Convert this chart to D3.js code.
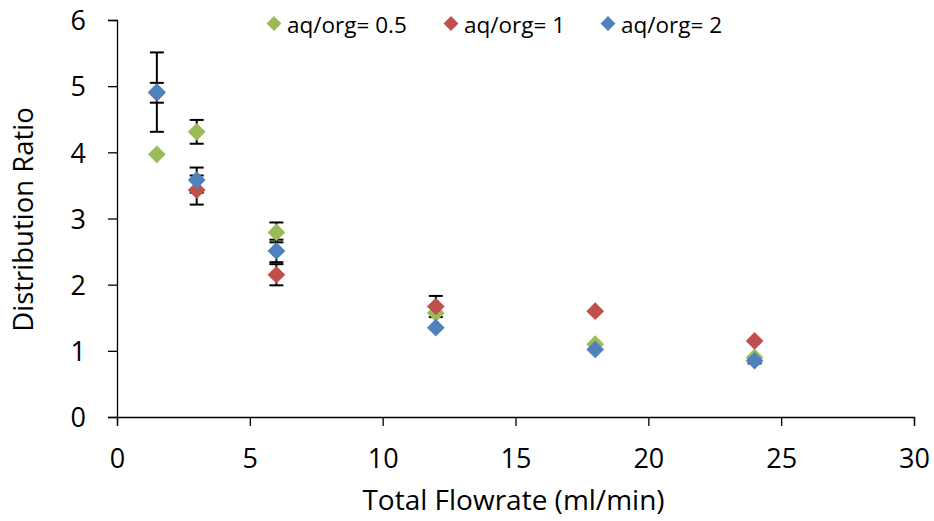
<!DOCTYPE html>
<html>
<head>
<meta charset="utf-8">
<script src="https://cdn.jsdelivr.net/npm/d3@7"></script>
<style>
  body { margin: 0; background: #fff; }
  text { font-family: "Open Sans", "Noto Sans", sans-serif; fill: #000; }
</style>
</head>
<body>
<script>
// flowrate values (ml/min)
var flowrates = [1.5, 3, 6, 12, 18, 24];
var seriesNames = ["aq/org= 0.5", "aq/org= 1", "aq/org= 2"];
var seriesColors = ["#9BBB59", "#C0504D", "#4F81BD"];

// distribution ratio, one array per aq/org ratio
var ratioHalf = [3.97, 4.31, 2.79, 1.57, 1.10, 0.90];
var ratioOne  = [4.90, 3.43, 2.15, 1.67, 1.60, 1.15];
var ratioTwo  = [4.91, 3.58, 2.51, 1.35, 1.02, 0.85];

// error bar half widths (0 = none shown)
var errHalf = [0, 0.18, 0.15, 0, 0, 0];
var errOne  = [0.15, 0.22, 0.16, 0.16, 0, 0];
var errTwo  = [0.60, 0.19, 0.17, 0, 0, 0.04];

var xTicks = [0, 5, 10, 15, 20, 25, 30];
var yTicks = [0, 1, 2, 3, 4, 5, 6];

var width = 934, height = 521;
var margin = {top: 20, right: 20, bottom: 104, left: 117};

var svg = d3.select("body").append("svg")
    .attr("width", width)
    .attr("height", height);

var x = d3.scaleLinear().domain([0, 30]).range([margin.left, width - margin.right]);
var y = d3.scaleLinear().domain([0, 6]).range([height - margin.bottom, margin.top]);

// axes
var xAxis = svg.append("g")
    .attr("transform", "translate(0," + y(0) + ")")
    .call(d3.axisBottom(x).tickValues(xTicks).tickSize(9).tickPadding(23).tickFormat(d3.format("d")));
var yAxis = svg.append("g")
    .attr("transform", "translate(" + x(0) + ",0)")
    .call(d3.axisLeft(y).tickValues(yTicks).tickSize(9).tickPadding(22).tickFormat(d3.format("d")));

[xAxis, yAxis].forEach(function (a) {
    a.select(".domain").attr("stroke", "#000").attr("stroke-width", 1.3);
    a.selectAll(".tick line").attr("stroke", "#000").attr("stroke-width", 1.3);
    a.selectAll(".tick text").style("font-size", "27px").attr("fill", "#000");
});
yAxis.selectAll(".tick text").attr("dy", "0.36em");

// axis titles
svg.append("text")
    .attr("x", (x(0) + x(30)) / 2 - 2)
    .attr("y", 510)
    .attr("text-anchor", "middle")
    .style("font-size", "28px")
    .text("Total Flowrate (ml/min)");

svg.append("text")
    .attr("transform", "translate(33," + (y(3) + 1) + ") rotate(-90)")
    .attr("text-anchor", "middle")
    .style("font-size", "27.5px")
    .text("Distribution Ratio");

var allSeries = [
    {name: seriesNames[0], color: seriesColors[0], values: ratioHalf, errs: errHalf},
    {name: seriesNames[1], color: seriesColors[1], values: ratioOne, errs: errOne},
    {name: seriesNames[2], color: seriesColors[2], values: ratioTwo, errs: errTwo}
];

var diamond = d3.symbol().type(d3.symbolDiamond2).size(200);
var cap = 7;

var errLayer = svg.append("g").attr("stroke", "#000").attr("stroke-width", 2);
var markLayer = svg.append("g");

// error bars go under every marker, markers drawn series by series
allSeries.forEach(function (s) {
    var pts = flowrates.map(function (f, i) { return {x: f, y: s.values[i], e: s.errs[i]}; });

    var eb = errLayer.append("g").selectAll("g")
        .data(pts.filter(function (d) { return d.e > 0; }))
        .enter().append("g");
    eb.append("line")
        .attr("x1", function (d) { return x(d.x); })
        .attr("x2", function (d) { return x(d.x); })
        .attr("y1", function (d) { return y(d.y - d.e); })
        .attr("y2", function (d) { return y(d.y + d.e); });
    eb.append("line")
        .attr("x1", function (d) { return x(d.x) - cap; })
        .attr("x2", function (d) { return x(d.x) + cap; })
        .attr("y1", function (d) { return y(d.y + d.e); })
        .attr("y2", function (d) { return y(d.y + d.e); });
    eb.append("line")
        .attr("x1", function (d) { return x(d.x) - cap; })
        .attr("x2", function (d) { return x(d.x) + cap; })
        .attr("y1", function (d) { return y(d.y - d.e); })
        .attr("y2", function (d) { return y(d.y - d.e); });

    markLayer.append("g").selectAll("path")
        .data(pts)
        .enter().append("path")
        .attr("d", diamond)
        .attr("fill", s.color)
        .attr("transform", function (d) { return "translate(" + x(d.x) + "," + y(d.y) + ")"; });
});

// legend
var legendX = [274, 451, 608];
var legend = svg.selectAll(".legend")
    .data(allSeries)
    .enter().append("g")
    .attr("transform", function (d, i) { return "translate(" + legendX[i] + ",23.5)"; });
legend.append("path")
    .attr("d", d3.symbol().type(d3.symbolDiamond2).size(140))
    .attr("fill", function (d) { return d.color; });
legend.append("text")
    .attr("x", 13)
    .attr("y", 9.5)
    .style("font-size", "22.5px")
    .text(function (d) { return d.name; });
</script>
</body>
</html>
